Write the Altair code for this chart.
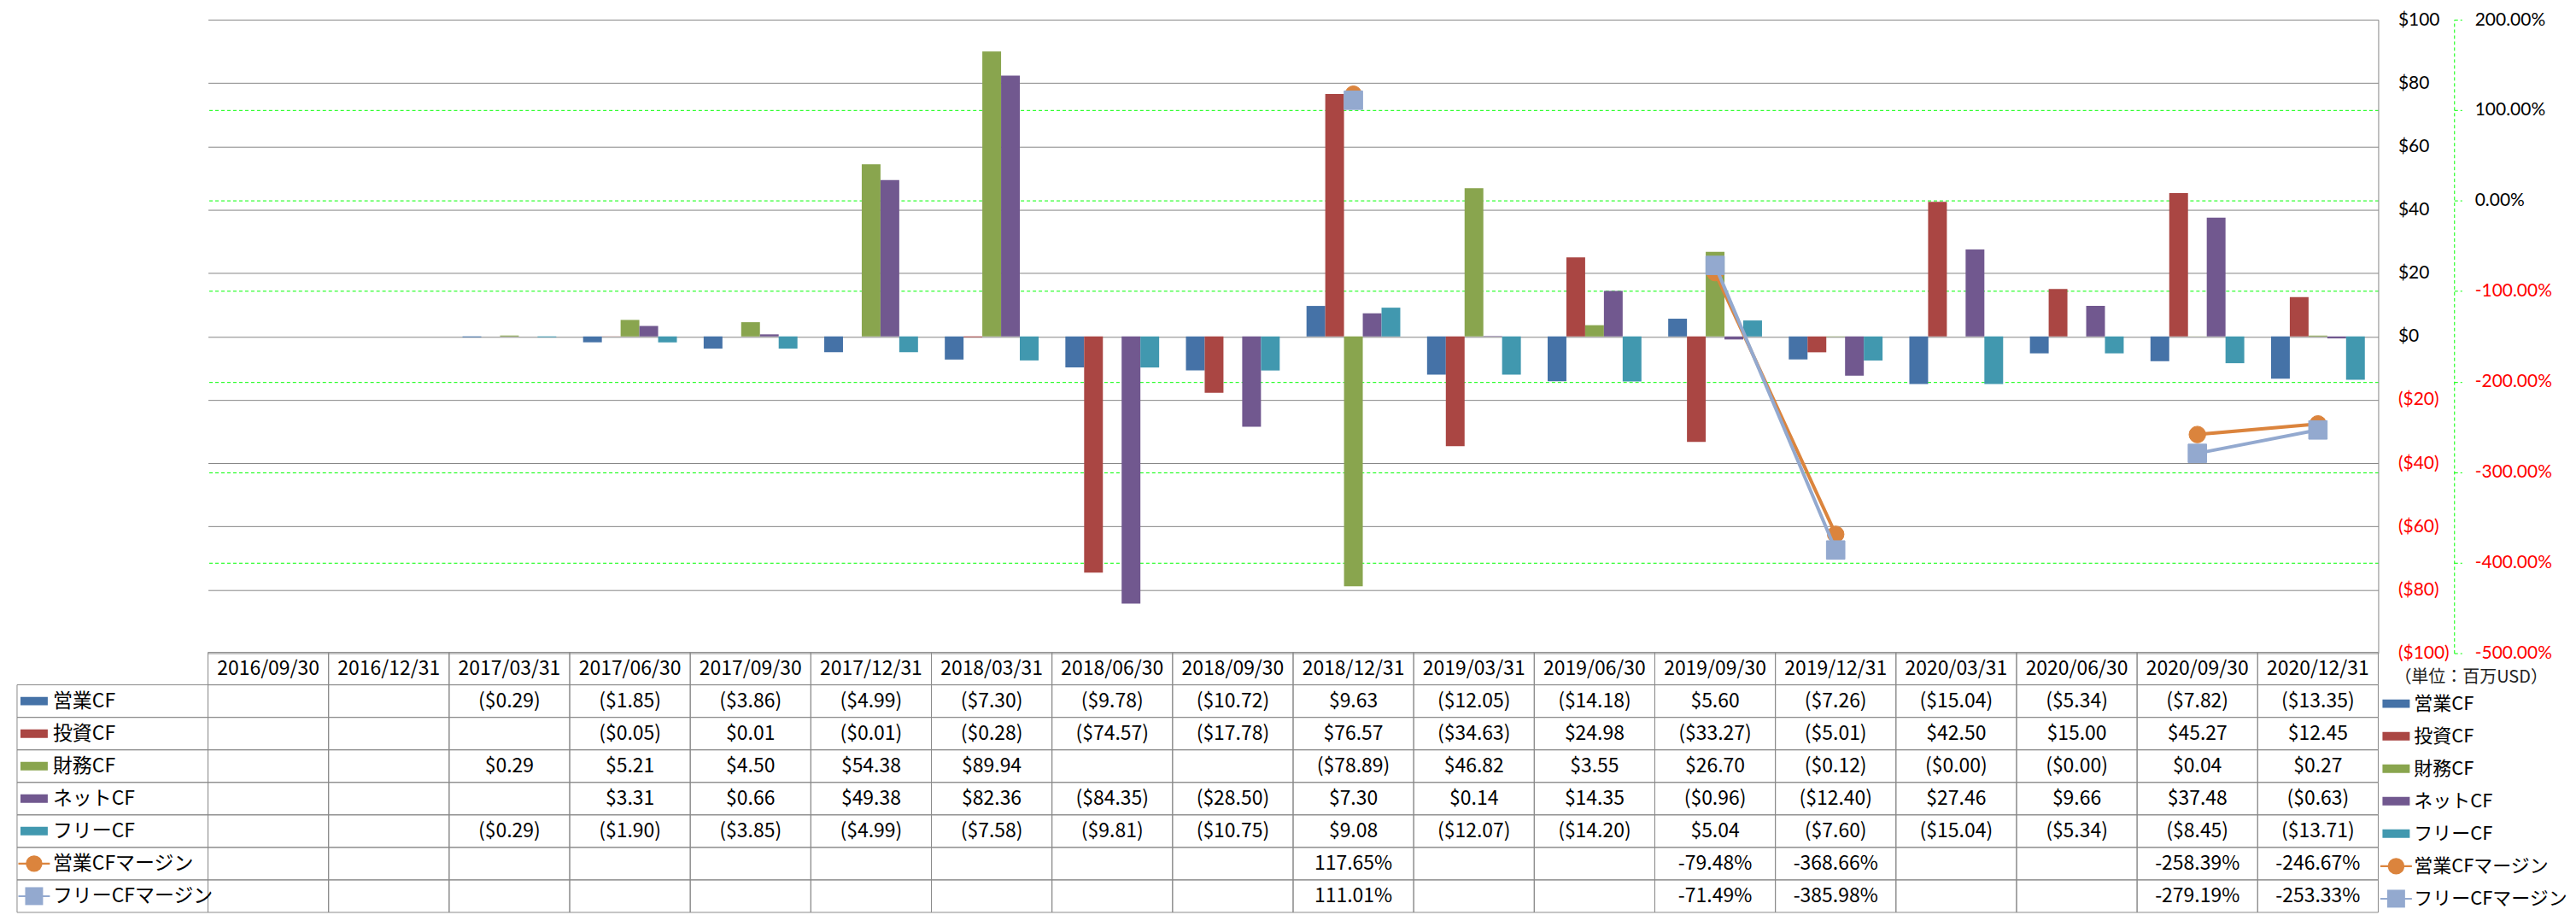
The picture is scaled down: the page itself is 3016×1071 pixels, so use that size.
import altair as alt
import pandas as pd

# ---------------- data ----------------
dates = ["2016/09/30", "2016/12/31", "2017/03/31", "2017/06/30", "2017/09/30", "2017/12/31",
         "2018/03/31", "2018/06/30", "2018/09/30", "2018/12/31", "2019/03/31", "2019/06/30",
         "2019/09/30", "2019/12/31", "2020/03/31", "2020/06/30", "2020/09/30", "2020/12/31"]

bar_series = ["営業CF", "投資CF", "財務CF", "ネットCF", "フリーCF"]
line_series = ["営業CFマージン", "フリーCFマージン"]

op_cf = [None, None, -0.29, -1.85, -3.86, -4.99, -7.30, -9.78, -10.72, 9.63, -12.05, -14.18,
         5.60, -7.26, -15.04, -5.34, -7.82, -13.35]
inv_cf = [None, None, None, -0.05, 0.01, -0.01, -0.28, -74.57, -17.78, 76.57, -34.63, 24.98,
          -33.27, -5.01, 42.50, 15.00, 45.27, 12.45]
fin_cf = [None, None, 0.29, 5.21, 4.50, 54.38, 89.94, None, None, -78.89, 46.82, 3.55,
          26.70, -0.12, -0.001, -0.001, 0.04, 0.27]
net_cf = [None, None, None, 3.31, 0.66, 49.38, 82.36, -84.35, -28.50, 7.30, 0.14, 14.35,
          -0.96, -12.40, 27.46, 9.66, 37.48, -0.63]
free_cf = [None, None, -0.29, -1.90, -3.85, -4.99, -7.58, -9.81, -10.75, 9.08, -12.07, -14.20,
           5.04, -7.60, -15.04, -5.34, -8.45, -13.71]
op_margin = [None, None, None, None, None, None, None, None, None, 117.65, None, None,
             -79.48, -368.66, None, None, -258.39, -246.67]
free_margin = [None, None, None, None, None, None, None, None, None, 111.01, None, None,
               -71.49, -385.98, None, None, -279.19, -253.33]

unit_label = "（単位：百万USD）"

bar_colors = ["#4572A7", "#AA4643", "#89A54E", "#71588F", "#4198AF"]
line_colors = ["#DB843D", "#93A9CF"]

# ---------------- frames ----------------
bar_values = [op_cf, inv_cf, fin_cf, net_cf, free_cf]
bar_rows = []
for s, vals in zip(bar_series, bar_values):
    for d, v in zip(dates, vals):
        if v is not None:
            bar_rows.append({"date": d, "series": s, "v": v})
bars_df = pd.DataFrame(bar_rows)

def margin_frame(name, vals):
    rows, seg, prev = [], 0, False
    for d, v in zip(dates, vals):
        if v is None:
            prev = False
            continue
        if not prev:
            seg += 1
        prev = True
        rows.append({"date": d, "series": name, "pct": v / 100.0, "seg": f"{name}{seg}"})
    return pd.DataFrame(rows)

op_m_df = margin_frame(line_series[0], op_margin)
fr_m_df = margin_frame(line_series[1], free_margin)

all_rows = bar_series + line_series
row_domain = ["header"] + all_rows

table_rows = []
for s, vals in zip(bar_series, bar_values):
    for d, v in zip(dates, vals):
        if v is not None:
            table_rows.append({"date": d, "row": s, "v": v, "kind": "usd"})
for s, vals in zip(line_series, [op_margin, free_margin]):
    for d, v in zip(dates, vals):
        if v is not None:
            table_rows.append({"date": d, "row": s, "v": v, "kind": "pct"})
table_df = pd.DataFrame(table_rows)

cells_df = pd.DataFrame([{"date": d, "row": r} for d in dates for r in row_domain])
header_df = pd.DataFrame({"date": dates, "row": ["header"] * len(dates)})
labels_df = pd.DataFrame({"row": all_rows, "col": ["c"] * len(all_rows)})
unit_df = pd.DataFrame({"row": ["header"], "col": ["c"], "t": [unit_label]})

# ---------------- geometry (layout) ----------------
W, H = 2546, 743
TABLE_TOP, TABLE_BOTTOM = 742, 1047
NUM_FONT = "'Noto Sans CJK JP', Lato, sans-serif"
JP_FONT = "'Noto Sans CJK JP', sans-serif"
GRID_GRAY = "#868686"
TABLE_GRAY = "#8A8A8A"

def xdate(**kw):
    return alt.X("date:N", scale=alt.Scale(type="band", domain=dates, paddingInner=0, paddingOuter=0),
                 axis=None, **kw)

def yrow(shift=0):
    return alt.Y("row:N", scale=alt.Scale(type="band", domain=row_domain,
                                          range=[TABLE_TOP + shift, TABLE_BOTTOM + shift],
                                          paddingInner=0, paddingOuter=0), axis=None)

def xcol(lo, hi):
    return alt.X("col:N", scale=alt.Scale(type="band", domain=["c"], range=[lo, hi],
                                          paddingInner=0, paddingOuter=0), axis=None)

usd_scale = alt.Scale(domain=[-100, 100], nice=False, zero=False)
pct_scale = alt.Scale(domain=[-5, 2], nice=False, zero=False)

# ---------------- plot layers ----------------
bars = alt.Chart(bars_df).mark_bar().encode(
    x=xdate(),
    xOffset=alt.XOffset("series:N", scale=alt.Scale(domain=bar_series, paddingInner=0, paddingOuter=0.714)),
    y=alt.Y("v:Q", scale=usd_scale,
            axis=alt.Axis(orient="right", values=list(range(-100, 101, 20)),
                          labelExpr="datum.value < 0 ? '($' + format(-datum.value, 'd') + ')' : '$' + format(datum.value, 'd')",
                          labelColor={"condition": {"test": "datum.value < 0", "value": "#FF0000"}, "value": "#000000"},
                          grid=True, gridColor=GRID_GRAY, gridWidth=1,
                          domain=True, domainColor=GRID_GRAY, domainWidth=1,
                          ticks=False, tickSize=0, labelPadding=23,
                          labelFont="Lato", labelFontSize=21, title=None)),
    y2=alt.datum(0),
    color=alt.Color("series:N", scale=alt.Scale(domain=bar_series, range=bar_colors), legend=None),
)

pct_axis = alt.Axis(orient="right", offset=89, values=[-5, -4, -3, -2, -1, 0, 1, 2],
                    labelExpr="(datum.value < 0 ? '-' : '') + format(abs(datum.value), '.2%')",
                    labelColor={"condition": {"test": "datum.value < 0", "value": "#FF0000"}, "value": "#000000"},
                    grid=True, gridColor="#00FF00", gridDash=[4, 3], gridWidth=1,
                    gridOpacity={"condition": {"test": "datum.value == 2 || datum.value == -5", "value": 0}, "value": 1},
                    domain=True, domainColor="#00FF00", domainDash=[4, 3], domainWidth=1,
                    ticks=True, tickColor="#00FF00", tickSize=9, tickDash=[4, 3],
                    labelPadding=15, labelFont="Lato", labelFontSize=21, title=None)

def margin_layers(df, color, shape, size, with_axis):
    line = alt.Chart(df).mark_line(color=color, strokeWidth=4).encode(
        x=xdate(),
        y=alt.Y("pct:Q", scale=pct_scale, axis=pct_axis if with_axis else None),
        detail="seg:N",
    )
    pts = alt.Chart(df).mark_point(shape=shape, filled=True, color=color, size=size, opacity=1,
                                   stroke=color, strokeWidth=1).encode(
        x=xdate(),
        y=alt.Y("pct:Q", scale=pct_scale, axis=None),
    )
    return [line, pts]

op_layers = margin_layers(op_m_df, line_colors[0], "circle", 380, True)
fr_layers = margin_layers(fr_m_df, line_colors[1], "square", 470, False)

# ---------------- table layers ----------------
cells = alt.Chart(cells_df).mark_rect(fill="transparent", stroke=TABLE_GRAY, strokeWidth=1).encode(
    x=xdate(), y=yrow())

header_text = alt.Chart(header_df).mark_text(font=NUM_FONT, fontSize=23, color="#000000").encode(
    x=xdate(), y=yrow(), text="date:N")

value_text = alt.Chart(table_df).transform_calculate(
    t="datum.kind == 'usd' ? (datum.v < 0 ? '($' + format(-datum.v, '.2f') + ')' : '$' + format(datum.v, '.2f'))"
      " : ((datum.v < 0 ? '-' : '') + format(abs(datum.v), '.2f') + '%')"
).mark_text(font=NUM_FONT, fontSize=23, color="#000000").encode(
    x=xdate(), y=yrow(), text="t:N")

label_cells = alt.Chart(labels_df).mark_rect(fill="transparent", stroke=TABLE_GRAY, strokeWidth=1).encode(
    x=xcol(-224, 0), y=yrow())

RECT_ICON = "M-1,-0.3125H1V0.3125H-1Z"
LINE_ICON = "M-1,-0.055H1V0.055H-1Z"

def legend_layers(icon_c, text_x, shift, fsize):
    bar_part = labels_df[labels_df["row"].isin(bar_series)]
    line_part = labels_df[labels_df["row"].isin(line_series)]
    xi = xcol(icon_c - 1, icon_c + 1)
    icons = alt.Chart(bar_part).mark_point(shape=RECT_ICON, filled=True, size=1024, opacity=1).encode(
        x=xi, y=yrow(shift),
        color=alt.Color("row:N", scale=alt.Scale(domain=bar_series, range=bar_colors), legend=None))
    line_icons = alt.Chart(line_part).mark_point(shape=LINE_ICON, filled=True, size=1369, opacity=1).encode(
        x=xi, y=yrow(shift),
        color=alt.Color("row:N", scale=alt.Scale(domain=line_series, range=line_colors), legend=None))
    marks = alt.Chart(line_part).mark_point(filled=True, opacity=1).encode(
        x=xi, y=yrow(shift),
        color=alt.Color("row:N", scale=alt.Scale(domain=line_series, range=line_colors), legend=None),
        shape=alt.Shape("row:N", scale=alt.Scale(domain=line_series, range=["circle", "square"]), legend=None),
        size=alt.Size("row:N", scale=alt.Scale(domain=line_series, range=[380, 440]), legend=None))
    text = alt.Chart(labels_df).mark_text(font=JP_FONT, fontSize=fsize, color="#000000", align="left").encode(
        x=xcol(text_x - 1, text_x + 1), y=yrow(shift), text="row:N")
    return [icons, line_icons, marks, text]

label_layers = legend_layers(-204, -182, 0, 23)
right_layers = legend_layers(2567, 2588, 3, 22)

unit_text = alt.Chart(unit_df).mark_text(font=JP_FONT, fontSize=20, color="#222222", align="left").encode(
    x=xcol(2564, 2566), y=yrow(10), text="t:N")

chart = alt.layer(
    cells, label_cells, header_text, value_text,
    bars, *op_layers, *fr_layers,
    *label_layers, *right_layers, unit_text,
).resolve_scale(
    x="independent", y="independent", color="independent", shape="independent", size="independent",
    xOffset="independent",
).properties(
    width=W, height=H,
    padding={"left": 236, "top": 14, "right": 224, "bottom": 306},
    autosize=alt.AutoSizeParams(type="none"),
    background="#FFFFFF",
).configure_view(stroke=None)

chart.save("out.html", embed_options={"renderer": "svg", "actions": False})
